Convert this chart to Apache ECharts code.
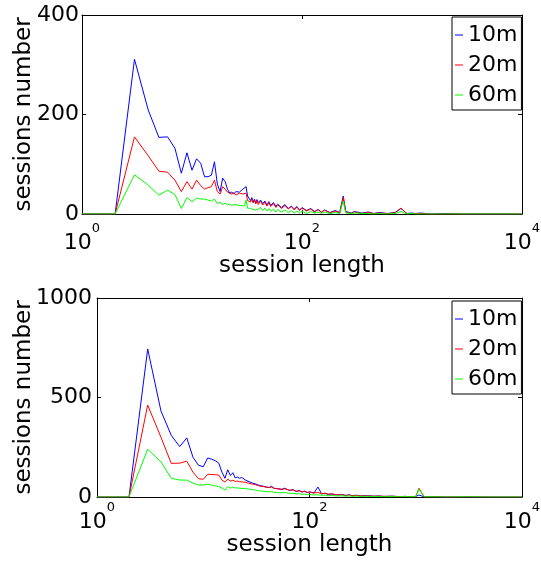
<!DOCTYPE html>
<html>
<head>
<meta charset="utf-8">
<script src="https://cdn.jsdelivr.net/npm/echarts@6/dist/echarts.min.js"></script>
<style>
  html, body { margin: 0; padding: 0; background: #fff; }
  #chart { width: 541px; height: 563px; }
</style>
</head>
<body>
<div id="chart"></div>
<script>
// session lengths (x), shared by every curve
var lengths = [
  1, 2, 3, 4, 5, 6, 7, 8, 9, 10, 11, 12, 13, 14, 15, 16, 17, 18, 19, 20,
  21, 22, 23, 24, 25, 26, 27, 28, 29, 30, 31, 32, 33, 34, 35, 36, 37, 38, 39, 40,
  42, 44, 46, 48, 50, 52, 55, 58, 60,
  65, 70, 75, 80, 85, 90, 95, 100,
  110, 120, 130, 140, 150, 160, 180, 200,
  220, 237, 250, 280, 300, 350, 400, 450, 500, 600, 700, 794, 900, 1000, 1072,
  1200, 1500, 2000, 3000, 5000, 7000, 10000
];

var seriesNames = ['10m', '20m', '60m'];
var seriesColors = ['#0000ff', '#ff0000', '#00ff00'];

// upper plot
var top10m = [
  0, 0, 311, 209, 154, 155, 132, 82, 123, 88, 111, 102, 75, 75, 78, 105, 60, 45, 72, 65,
  50, 42, 44, 40, 45, 46, 44, 47, 50, 48, 55, 36, 32, 27, 33, 24, 30, 22, 29, 23,
  28, 21, 26, 18, 25, 17, 23, 15, 20,
  13, 19, 11, 16, 10, 15, 8, 13,
  7, 11, 5, 9, 4, 8, 3, 7,
  3, 36, 5, 2, 5, 2, 4, 1, 3, 1, 3, 11, 1, 2, 1,
  2, 0, 1, 0, 0, 0, 0
];
var top20m = [
  0, 0, 155, 117, 86, 84, 68, 45, 65, 50, 68, 57, 50, 53, 55, 68, 45, 40, 55, 50,
  44, 42, 40, 43, 38, 40, 42, 45, 40, 38, 42, 27, 31, 24, 30, 22, 28, 20, 27, 19,
  26, 18, 24, 16, 23, 15, 21, 13, 19,
  11, 17, 10, 15, 8, 14, 7, 12,
  6, 10, 4, 9, 3, 8, 2, 6,
  2, 33, 4, 1, 4, 1, 3, 1, 2, 1, 2, 12, 0, 1, 1,
  1, 0, 0, 0, 0, 0, 0
];
var top60m = [
  0, 0, 79, 58, 38, 48, 39, 11, 33, 25, 32, 30, 30, 28, 26, 30, 21, 24, 19, 22,
  18, 20, 17, 19, 16, 18, 15, 17, 20, 16, 28, 12, 15, 11, 14, 9, 13, 8, 12, 10,
  13, 7, 12, 6, 11, 5, 10, 4, 9,
  4, 8, 3, 7, 2, 6, 2, 6,
  1, 5, 2, 4, 1, 4, 1, 3,
  1, 26, 2, 1, 2, 1, 1, 0, 1, 0, 1, 5, 0, 1, 0,
  0, 0, 0, 0, 0, 0, 0
];

// lower plot
var bot10m = [
  0, 0, 744, 432, 310, 253, 297, 200, 160, 152, 196, 190, 182, 170, 125, 94, 137, 108, 122, 96,
  100, 94, 98, 88, 85, 80, 77, 82, 70, 72, 66, 68, 60, 65, 56, 62, 54, 60, 50, 57,
  48, 55, 44, 52, 42, 49, 38, 44, 36,
  33, 36, 28, 32, 25, 29, 22, 26,
  20, 50, 16, 19, 13, 15, 11, 12,
  8, 11, 7, 9, 5, 7, 4, 5, 3, 4, 2, 3, 1, 3, 10,
  1, 2, 0, 1, 0, 0, 0
];
var bot20m = [
  0, 0, 462, 300, 169, 170, 180, 125, 92, 89, 114, 113, 112, 110, 85, 75, 90, 80, 84, 78,
  80, 77, 76, 72, 74, 70, 69, 71, 65, 66, 62, 63, 57, 61, 54, 59, 52, 55, 50, 54,
  47, 50, 44, 48, 41, 45, 39, 42, 36,
  34, 36, 29, 31, 26, 28, 23, 25,
  20, 23, 16, 19, 14, 16, 11, 12,
  8, 10, 6, 8, 5, 6, 4, 5, 3, 4, 2, 3, 2, 2, 44,
  1, 1, 0, 1, 0, 0, 0
];
var bot60m = [
  0, 0, 240, 177, 94, 85, 85, 70, 60, 60, 64, 60, 56, 52, 45, 35, 52, 44, 50, 45,
  46, 44, 43, 41, 42, 40, 40, 38, 37, 38, 35, 36, 32, 34, 30, 33, 29, 31, 27, 30,
  26, 28, 24, 27, 22, 25, 21, 23, 19,
  18, 19, 15, 17, 13, 15, 11, 13,
  10, 11, 8, 10, 6, 8, 5, 7,
  4, 6, 3, 5, 2, 4, 2, 3, 1, 2, 1, 2, 1, 2, 40,
  1, 1, 0, 1, 0, 0, 0
];

var FONT = 'DejaVu Sans';

function pairs(ys) {
  return lengths.map(function(x, i) { return [x, ys[i]]; });
}

// x axis: log scale, ticks at 10^0, 10^2, 10^4
function xAxisMain(gridIndex, margin) {
  return {
    type: 'log', gridIndex: gridIndex, logBase: 100, min: 1, max: 10000,
    name: 'session length', nameLocation: 'middle', nameGap: 35,
    nameTextStyle: { fontFamily: FONT, fontSize: 23, color: '#000' },
    axisLine: { onZero: false, lineStyle: { color: '#000', width: 1 } },
    axisTick: { inside: true, length: 4, lineStyle: { color: '#000' } },
    minorTick: { show: false },
    splitLine: { show: false },
    axisLabel: {
      margin: margin, color: '#000', showMinLabel: true, showMaxLabel: true,
      formatter: function(v) {
        return '{b|10}{s|' + Math.round(Math.log10(v)) + '}';
      },
      rich: {
        b: { fontFamily: FONT, fontSize: 22, color: '#000', padding: [10, 0, 0, 0], verticalAlign: 'bottom' },
        s: { fontFamily: FONT, fontSize: 13, color: '#000', verticalAlign: 'top' }
      }
    }
  };
}

function xAxisMirror(gridIndex) {
  return {
    type: 'log', gridIndex: gridIndex, logBase: 100, min: 1, max: 10000, position: 'top',
    axisLine: { onZero: false, lineStyle: { color: '#000', width: 1 } },
    axisTick: { inside: true, length: 4, lineStyle: { color: '#000' } },
    axisLabel: { show: false },
    splitLine: { show: false }
  };
}

function yAxisMain(gridIndex, max, interval, gap, margin) {
  return {
    type: 'value', gridIndex: gridIndex, min: 0, max: max, interval: interval,
    name: 'sessions number', nameLocation: 'middle', nameGap: gap,
    nameMoveOverlap: false,
    nameTextStyle: { fontFamily: FONT, fontSize: 23, color: '#000' },
    axisLine: { show: true, onZero: false, lineStyle: { color: '#000', width: 1 } },
    axisTick: { show: true, inside: true, length: 4, lineStyle: { color: '#000' } },
    splitLine: { show: false },
    axisLabel: {
      margin: margin, fontFamily: FONT, fontSize: 22, color: '#000',
      formatter: function(v) { return String(v); }
    }
  };
}

function yAxisMirror(gridIndex, max, interval) {
  return {
    type: 'value', gridIndex: gridIndex, min: 0, max: max, interval: interval, position: 'right',
    axisLine: { show: true, onZero: false, lineStyle: { color: '#000', width: 1 } },
    axisTick: { show: true, inside: true, length: 4, lineStyle: { color: '#000' } },
    splitLine: { show: false },
    axisLabel: { show: false }
  };
}

function legendAt(top) {
  return {
    orient: 'vertical', left: 452, top: top,
    data: seriesNames, icon: 'rect', itemWidth: 8, itemHeight: 1, itemGap: 8,
    padding: [7, 4, 4, 3],
    borderColor: '#000', borderWidth: 1, backgroundColor: '#fff',
    selectedMode: false,
    textStyle: { fontFamily: FONT, fontSize: 22, color: '#000' }
  };
}

function lineSeries(name, color, ys, axisIndex) {
  return {
    type: 'line', name: name, data: pairs(ys),
    xAxisIndex: axisIndex, yAxisIndex: axisIndex,
    showSymbol: false, symbol: 'none', animation: false,
    lineStyle: { color: color, width: 1 },
    itemStyle: { color: color }
  };
}

var chart = echarts.init(document.getElementById('chart'), null, { renderer: 'canvas' });
chart.setOption({
  backgroundColor: '#fff',
  animation: false,
  grid: [
    { left: 82, top: 15, width: 440, height: 199, outerBoundsMode: 'none' },
    { left: 97, top: 298, width: 425, height: 199, outerBoundsMode: 'none' }
  ],
  legend: [legendAt(17), legendAt(301)],
  xAxis: [xAxisMain(0, 8), xAxisMain(1, 4), xAxisMirror(0), xAxisMirror(1)],
  yAxis: [
    yAxisMain(0, 400, 200, 46, 3), yAxisMain(1, 1000, 500, 61, 5),
    yAxisMirror(0, 400, 200), yAxisMirror(1, 1000, 500)
  ],
  series: [
    lineSeries('10m', seriesColors[0], top10m, 0),
    lineSeries('20m', seriesColors[1], top20m, 0),
    lineSeries('60m', seriesColors[2], top60m, 0),
    lineSeries('10m', seriesColors[0], bot10m, 1),
    lineSeries('20m', seriesColors[1], bot20m, 1),
    lineSeries('60m', seriesColors[2], bot60m, 1)
  ]
});
</script>
</body>
</html>
